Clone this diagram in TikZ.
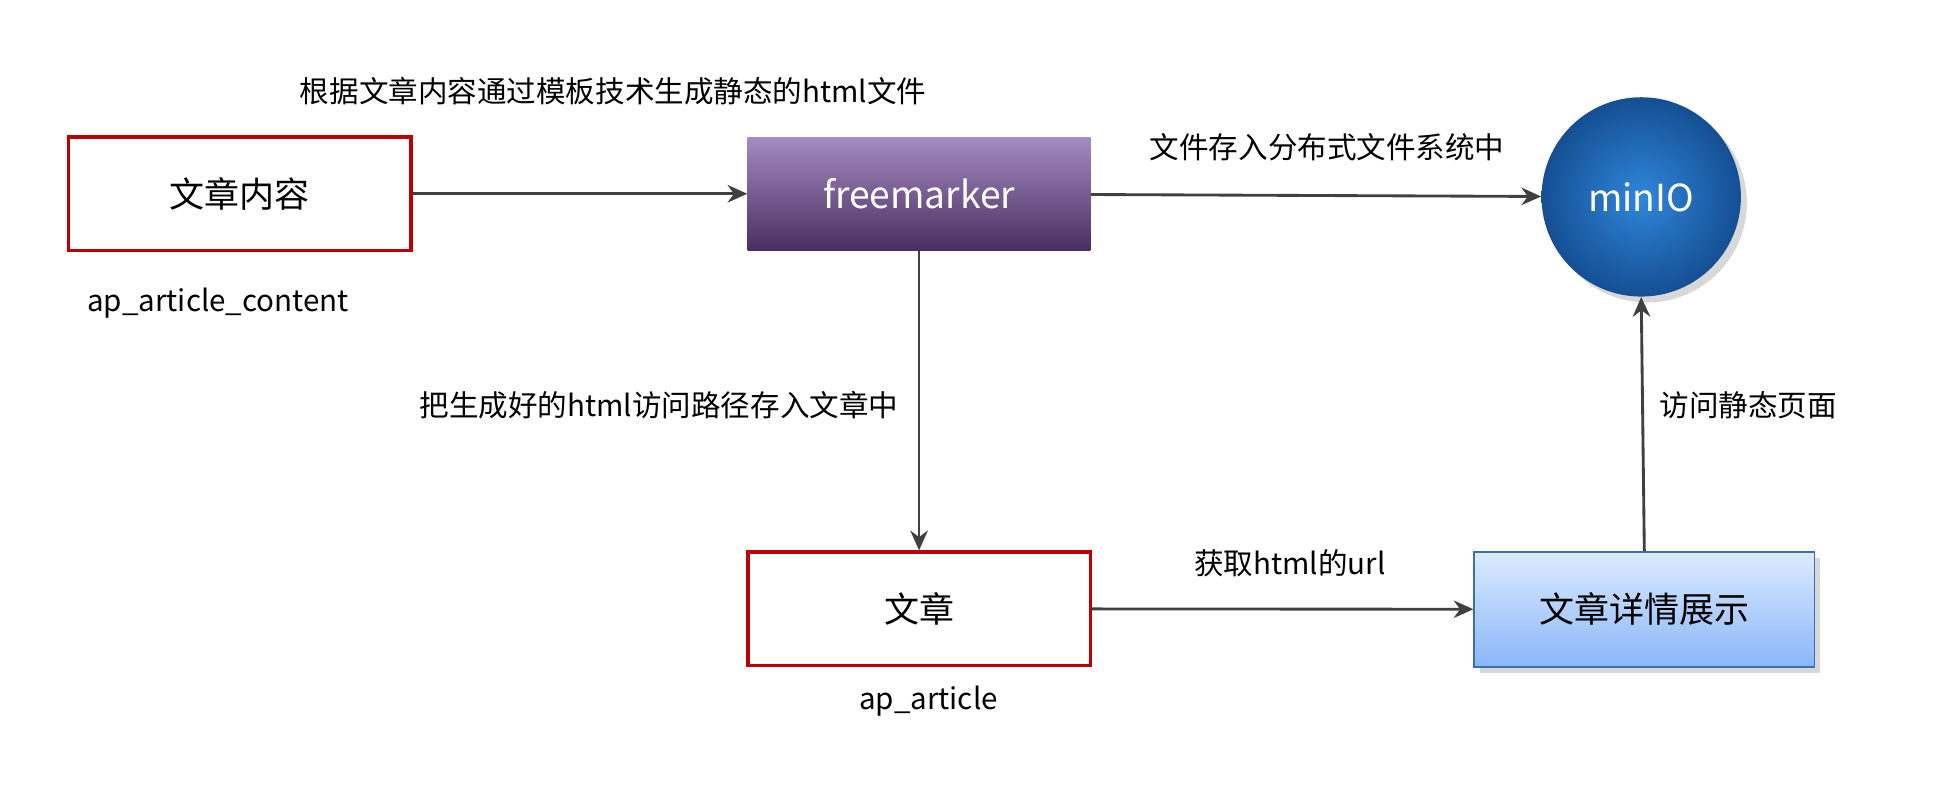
\documentclass[tikz,border=0pt]{standalone}
\usepackage{fontspec}
\setmainfont{Noto Sans CJK SC}
\usetikzlibrary{arrows.meta,shadows,positioning}
\definecolor{linegray}{HTML}{404040}
\definecolor{boxred}{HTML}{C00000}
\definecolor{purpletop}{HTML}{A48BC0}
\definecolor{purplebot}{HTML}{4A2E62}
\definecolor{bluetop}{HTML}{2F86DA}
\definecolor{bluebot}{HTML}{154F93}
\definecolor{lbluetop}{HTML}{DCEBFF}
\definecolor{lbluebot}{HTML}{8AB6F8}
\definecolor{lblueline}{HTML}{3A6FB0}
\tikzset{
  redbox/.style={draw=boxred, line width=1.6pt, minimum width=5.5cm, minimum height=1.82cm, font=\fontsize{16}{18}\selectfont},
  fmbox/.style={top color=purpletop, bottom color=purplebot, minimum width=5.5cm, minimum height=1.82cm, text=white, font=\fontsize{17}{19}\selectfont},
  showbox/.style={top color=lbluetop, bottom color=lbluebot, draw=lblueline, line width=0.8pt, minimum width=5.46cm, minimum height=1.84cm, font=\fontsize{16}{18}\selectfont, drop shadow={opacity=0.3}},
  storecircle/.style={circle, inner color=bluetop, outer color=bluebot, minimum size=3.2cm, text=white, font=\fontsize{17}{19}\selectfont, drop shadow={opacity=0.3}},
  flow/.style={draw=linegray, line width=1.3pt, -{Stealth[length=9pt,width=8pt]}},
  note/.style={font=\fontsize{13.5}{16}\selectfont}
}
\begin{document}
\begin{tikzpicture}[x=0.02cm,y=-0.02cm]
\useasboundingbox (0,0) rectangle (1568,636);
\fill[white, drop shadow={opacity=0.15, shadow xshift=0pt, shadow yshift=0pt}] (32,32) rectangle (1536,604);
% nodes
\node[redbox] (content) at (192.5,155.5) {文章内容};
\node[fmbox] (fm) at (737.5,155.5) {freemarker};
\node[storecircle] (minio) at (1317,158) {minIO};
\node[redbox] (article) at (737.5,488.5) {文章};
\node[showbox] (show) at (1319.5,489) {文章详情展示};
% labels
\node[note] (tcontent) at (175,243) {ap\_article\_content};
\node[note] (tarticle) at (745,563) {ap\_article};
\node[note] (ttop) at (492,73) {根据文章内容通过模板技术生成静态的html文件};
\node[note] (tstore) at (1065,118) {文件存入分布式文件系统中};
\node[note, anchor=east] (tpath) at (727,325) {把生成好的html访问路径存入文章中};
\node[note] (turl) at (1035,452) {获取html的url};
\node[note] (tvisit) at (1403,325) {访问静态页面};
% connectors
\draw[flow] (content) -- (fm);
\draw[flow] (fm) -- (minio);
\draw[flow] (fm) -- (article);
\draw[flow] (article) -- (show);
\draw[flow] (show.north) -- (minio.south);
\end{tikzpicture}
\end{document}
